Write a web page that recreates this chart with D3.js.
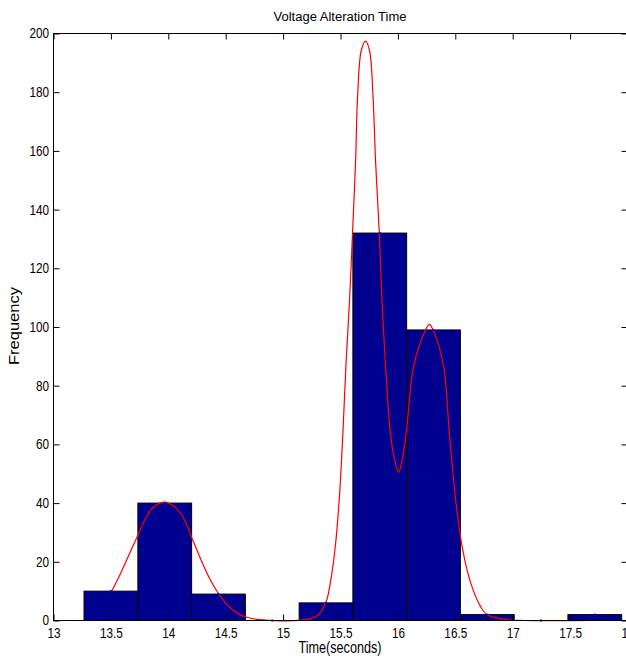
<!DOCTYPE html>
<html>
<head>
<meta charset="utf-8">
<script src="https://cdn.jsdelivr.net/npm/d3@7"></script>
<style>
  html, body { margin: 0; padding: 0; background: #fff; }
  svg { display: block; font-family: "Liberation Sans", Arial, Helvetica, sans-serif; }
</style>
</head>
<body>
<script>
// ---- Data ----
const binCenters = [13.500, 13.969, 14.437, 14.905, 15.374, 15.842, 16.310, 16.779, 17.247, 17.715];
const binCounts  = [10, 40, 9, 0, 6, 132, 99, 2, 0, 2];
const binWidth = 0.4683;

// red fitted curve
const curveT = [13.507, 13.580, 13.652, 13.725, 13.797, 13.870, 13.966, 14.059, 14.132, 14.205, 14.277, 14.350, 14.437,
                14.524, 14.597, 14.684, 14.800, 14.905,
                15.148, 15.295, 15.373, 15.411, 15.452, 15.489, 15.521, 15.547, 15.579, 15.605, 15.631, 15.649, 15.681,
                15.718, 15.753, 15.783, 15.806, 15.838, 15.861, 15.893, 15.934, 15.971, 16.006, 16.038, 16.073, 16.137,
                16.230, 16.274, 16.317, 16.398, 16.448, 16.503, 16.564, 16.634, 16.718, 16.777, 16.950, 17.100, 17.715];
const curveV = [10.0, 15.7, 21.9, 28.2, 34.4, 38.6, 40.3, 38.6, 35.0, 28.2, 21.4, 15.1, 9.2,
                4.9, 2.6, 1.1, 0.3, 0.0,
                0.1, 1.5, 6.2, 12.8, 24.2, 41.2, 64.0, 86.6, 109.4, 132.3, 156.0, 178.8, 194.2,
                197.4, 194.2, 178.8, 156.0, 132.0, 109.4, 86.6, 64.0, 54.9, 50.5, 54.9, 64.0, 86.6,
                98.0, 100.9, 98.0, 86.6, 64.0, 41.2, 24.2, 12.8, 4.9, 2.0, 0.3, 0.0, 0.0];

const xTicks = [13, 13.5, 14, 14.5, 15, 15.5, 16, 16.5, 17, 17.5, 18];
const yTicks = [0, 20, 40, 60, 80, 100, 120, 140, 160, 180, 200];

const titleText = "Voltage Alteration Time";
const xLabelText = "Time(seconds)";
const yLabelText = "Frequency";

// ---- Drawing ----
const W = 626, H = 666;
const svg = d3.select("body").append("svg").attr("width", W).attr("height", H);

const x = d3.scaleLinear().domain([13, 18]).range([53.5, 627.5]);
const y = d3.scaleLinear().domain([0, 200]).range([620.5, 33.5]);

const tickFont = 14, tickSX = 0.84;

// bars
svg.append("g").selectAll("rect").data(binCenters).join("rect")
  .attr("x", (d) => x(d - binWidth / 2))
  .attr("y", (d, i) => y(binCounts[i]))
  .attr("width", (d) => x(d + binWidth / 2) - x(d - binWidth / 2))
  .attr("height", (d, i) => y(0) - y(binCounts[i]))
  .attr("fill", "#00008f")
  .attr("stroke", "#000")
  .attr("stroke-width", 1);

// curve
const line = d3.line().x((d) => x(d[0])).y((d) => Math.min(y(0), y(d[1]))).curve(d3.curveCatmullRom.alpha(0.5));
svg.append("path")
  .datum(curveT.map((t, i) => [t, curveV[i]]))
  .attr("d", line)
  .attr("fill", "none")
  .attr("stroke", "#ff0000")
  .attr("stroke-width", 1.2);

// blue points at bin centres
svg.append("g").selectAll("rect").data(binCenters).join("rect")
  .attr("x", (d) => x(d) - 1)
  .attr("y", (d, i) => y(binCounts[i]) - 1)
  .attr("width", 2).attr("height", 2)
  .attr("fill", "#0000ff");

// axes (ticks inside)
const gB = svg.append("g").attr("transform", `translate(0,${y(0)})`)
  .call(d3.axisBottom(x).tickValues(xTicks).tickSize(-6).tickPadding(7.5).tickFormat((d) => String(d)));
const gT = svg.append("g").attr("transform", `translate(0,${y(200)})`)
  .call(d3.axisTop(x).tickValues(xTicks).tickSize(-6).tickFormat(""));
const gL = svg.append("g").attr("transform", `translate(${x(13)},0)`)
  .call(d3.axisLeft(y).tickValues(yTicks).tickSize(-6).tickPadding(5.3).tickFormat((d) => String(d)));
const gR = svg.append("g").attr("transform", `translate(${x(18)},0)`)
  .call(d3.axisRight(y).tickValues(yTicks).tickSize(-6).tickFormat(""));

[gB, gT, gL, gR].forEach((g) => {
  g.select(".domain").remove();
  g.selectAll(".tick line").attr("stroke", "#000");
  g.selectAll("text")
    .attr("font-size", tickFont)
    .attr("font-family", "Liberation Sans, Arial, sans-serif")
    .attr("fill", "#000")
    .attr("transform", `scale(${tickSX},1)`);
});

// frame
svg.append("rect")
  .attr("x", x(13)).attr("y", y(200))
  .attr("width", x(18) - x(13)).attr("height", y(0) - y(200))
  .attr("fill", "none").attr("stroke", "#000").attr("stroke-width", 1);

// helper to fit text width horizontally
function fitText(sel, target) {
  const len = sel.node().getComputedTextLength();
  return target / len;
}

// title
const title = svg.append("text").text(titleText)
  .attr("text-anchor", "middle").attr("font-size", 13.5).attr("fill", "#000");
const sT = fitText(title, 133);
title.attr("transform", `translate(340,20.5) scale(${sT},1)`);

// x label
const xl = svg.append("text").text(xLabelText)
  .attr("text-anchor", "middle").attr("font-size", 16).attr("fill", "#000");
const sX = fitText(xl, 83);
xl.attr("transform", `translate(340,652.5) scale(${sX},1)`);

// y label
svg.append("text").text(yLabelText)
  .attr("text-anchor", "middle").attr("font-size", 16.5).attr("fill", "#000")
  .attr("transform", `translate(19.3,326) scale(0.845,1) rotate(-90)`);
</script>
</body>
</html>
